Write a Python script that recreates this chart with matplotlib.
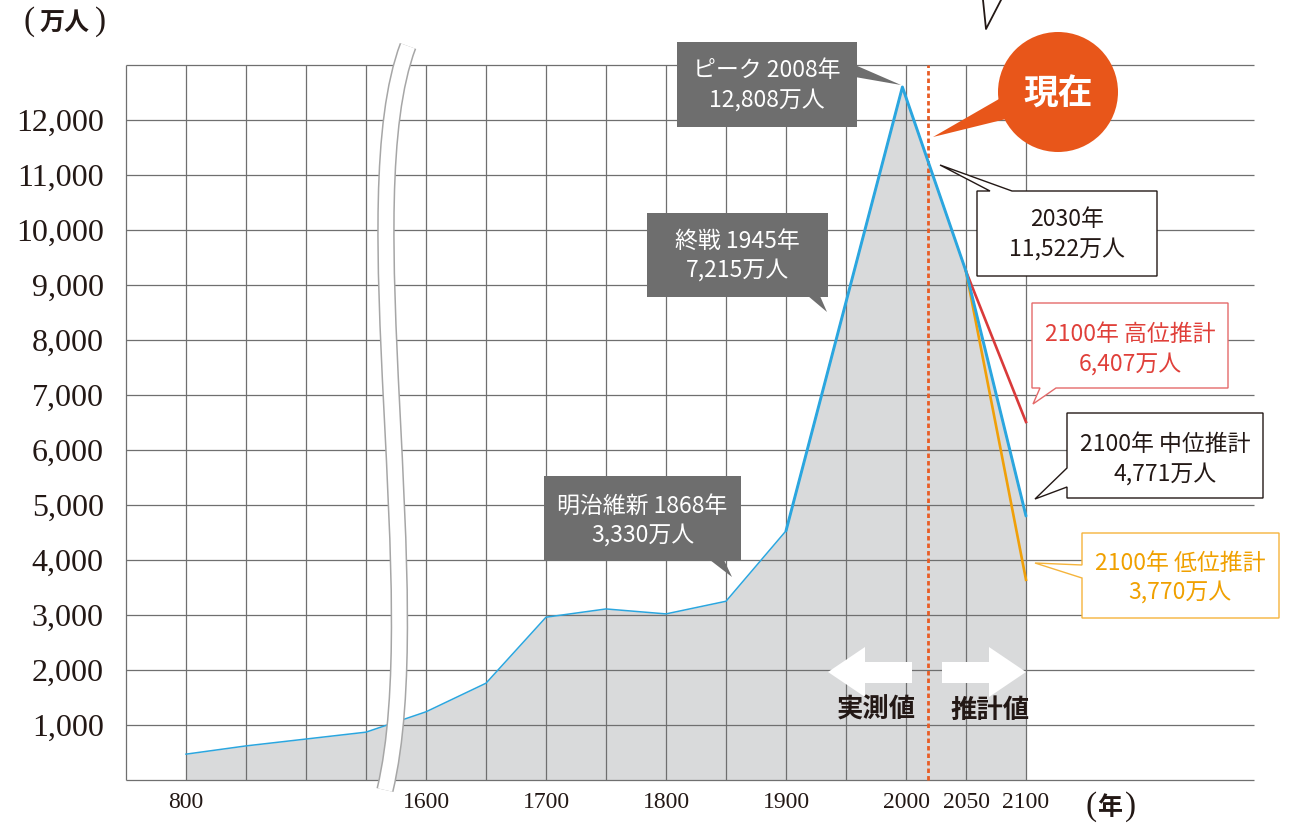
import numpy as np
import matplotlib
matplotlib.use('Agg')
import matplotlib.pyplot as plt
from matplotlib.path import Path
from matplotlib.patches import PathPatch, Polygon, Rectangle, Circle

# ---------------- data ----------------
years = [800, 900, 1000, 1100, 1600, 1650, 1700, 1750, 1800, 1850, 1900, 1997, 2050, 2100]
medium = [470, 620, 745, 870, 1240, 1760, 2960, 3110, 3020, 3250, 4530, 12600, 9250, 4800]
proj_years = [2050, 2100]
high = [9250, 6510]
low = [9250, 3640]
now_year = 2018
xtick_years = [800, 1600, 1700, 1800, 1900, 2000, 2050, 2100]
ytick_vals = list(range(1000, 13000, 1000))

# non-linear year scale (break between 1100 and 1600)
SCALE_YEARS = [800, 1100, 1600, 2100]
SCALE_POS = [1, 4, 5, 15]


def to_pos(y):
    return np.interp(y, SCALE_YEARS, SCALE_POS)


W, H = 1290, 823
plt.rcParams['font.family'] = ['Noto Sans CJK JP', 'DejaVu Sans']
SERIF = ['Liberation Serif', 'Noto Sans CJK JP']
INK = '#231815'

fig = plt.figure(figsize=(W / 100, H / 100), dpi=100)
fig.patch.set_facecolor('white')

# main axes
L, R, B, T = 126, 1254, 780, 65
ax = fig.add_axes([L / W, 1 - B / H, (R - L) / W, (B - T) / H])
XMAX = (R - L) / 60.0
ax.set_xlim(0, XMAX)
ax.set_ylim(0, 13000)
for s in ax.spines.values():
    s.set_visible(False)
ax.patch.set_alpha(0)

GRID = '#6f6f6f'
ax.hlines(np.arange(0, 14000, 1000), 0, XMAX, colors=GRID, lw=0.9, zorder=2, clip_on=False)
ax.vlines(np.arange(0, 16), 0, 13000, colors=GRID, lw=0.9, zorder=2, clip_on=False)

px = to_pos(years)
ax.fill_between(px, medium, 0, color='#d9dadb', lw=0, zorder=1)

ax.plot(to_pos([now_year, now_year]), [0, 13000], color='#e85d26', lw=2.0,
        linestyle=(0, (1.6, 1.1)), zorder=2.5, clip_on=False)

BLUE = '#2ba6df'
RED = '#d93a3a'
ORANGE = '#f0a00a'
ax.plot(to_pos(proj_years), high, color=RED, lw=1.9, zorder=3)
ax.plot(to_pos(proj_years), low, color=ORANGE, lw=1.9, zorder=3)
ax.plot(px, medium, color=BLUE, lw=1.1, zorder=3.5, solid_joinstyle='round')
idx = years.index(1900)
ax.plot(px[idx:], medium[idx:], color=BLUE, lw=2.1, zorder=3.6,
        solid_joinstyle='round', solid_capstyle='round')

ax.set_xticks(to_pos(xtick_years))
ax.set_xticklabels([str(y) for y in xtick_years], family=SERIF, fontsize=17, color=INK)
ax.set_yticks(ytick_vals)
ax.set_yticklabels([f"{v:,}" for v in ytick_vals], family=SERIF, fontsize=23, color=INK)
ax.tick_params(axis='x', length=0, pad=9)
ax.tick_params(axis='y', length=0, pad=16)

# ---------------- overlay in pixel coordinates ----------------
ov = fig.add_axes([0, 0, 1, 1], zorder=5)
ov.set_xlim(0, W)
ov.set_ylim(H, 0)
ov.axis('off')
ov.patch.set_alpha(0)

# axis break band
brk = Path([(408, 46), (350, 200), (430, 600), (385, 790)],
           [Path.MOVETO, Path.CURVE4, Path.CURVE4, Path.CURVE4])
ov.add_patch(PathPatch(brk, fill=False, edgecolor='#a6a6a6', lw=12.6, capstyle='butt'))
ov.add_patch(PathPatch(brk, fill=False, edgecolor='white', lw=10.4, capstyle='butt'))

# axis unit labels
ov.text(29, 22, '(', family=SERIF, fontsize=24, color=INK, ha='center', va='center')
ov.text(65, 23, '万人', fontsize=18, fontweight='bold', color=INK, ha='center', va='center')
ov.text(100, 22, ')', family=SERIF, fontsize=24, color=INK, ha='center', va='center')
ov.text(1091, 807, '(', family=SERIF, fontsize=24, color=INK, ha='center', va='center')
ov.text(1110, 808, '年', fontsize=18, fontweight='bold', color=INK, ha='center', va='center')
ov.text(1130, 807, ')', family=SERIF, fontsize=24, color=INK, ha='center', va='center')

DARK = '#6e6e6e'
FS = 16.5


def dark_box(x0, y0, x1, y1, tri, lines, ys):
    ov.add_patch(Rectangle((x0, y0), x1 - x0, y1 - y0, facecolor=DARK, edgecolor='none'))
    ov.add_patch(Polygon(tri, closed=True, facecolor=DARK, edgecolor='none'))
    for t, yy in zip(lines, ys):
        ov.text((x0 + x1) / 2, yy, t, color='white', fontsize=FS, ha='center', va='center')


dark_box(677, 42, 857, 127, [(855, 65), (901, 85), (855, 77)],
         ['ピーク 2008年', '12,808万人'], [70, 100])
dark_box(647, 213, 828, 297, [(808, 296), (827, 312), (820, 296)],
         ['終戦 1945年', '7,215万人'], [241, 270])
dark_box(544, 476, 741, 561, [(710, 560), (732, 577), (724, 560)],
         ['明治維新 1868年', '3,330万人'], [506, 535])


def outline_box(poly, edge, tcolor, cx, lines, ys):
    ov.add_patch(Polygon(poly, closed=True, facecolor='white', edgecolor=edge, lw=1.0,
                         joinstyle='miter'))
    for t, yy in zip(lines, ys):
        ov.text(cx, yy, t, color=tcolor, fontsize=FS, ha='center', va='center')


outline_box([(977, 191), (990, 191), (940, 165), (1012, 191), (1157, 191), (1157, 276),
             (977, 276)], INK, INK, 1067, ['2030年', '11,522万人'], [219, 249])
outline_box([(1032, 303), (1228, 303), (1228, 388), (1056, 388), (1033, 404), (1040, 388),
             (1032, 388)], '#e46a6a', '#e0403a', 1130, ['2100年 高位推計', '6,407万人'], [334, 364])
outline_box([(1067, 413), (1263, 413), (1263, 498), (1067, 498), (1067, 487), (1035, 499),
             (1067, 468)], INK, INK, 1165, ['2100年 中位推計', '4,771万人'], [444, 474])
outline_box([(1082, 533), (1279, 533), (1279, 618), (1082, 618), (1082, 578), (1035, 563),
             (1082, 565)], '#f5b43c', '#f0a000', 1180, ['2100年 低位推計', '3,770万人'], [563, 592])

# "現在" bubble
NOWC = '#e8561a'
ov.add_patch(Polygon([(999, 99), (933, 137), (1006, 119)], closed=True, facecolor=NOWC,
                     edgecolor='none'))
ov.add_patch(Circle((1058, 92), 60, facecolor=NOWC, edgecolor='none'))
ov.text(1058, 94, '現在', color='white', fontsize=25, fontweight='bold', ha='center', va='center')

# arrows
ov.add_patch(Polygon([(828, 672), (865, 647), (865, 662), (912, 662), (912, 683), (865, 683),
                      (865, 697)], closed=True, facecolor='white', edgecolor='none'))
ov.add_patch(Polygon([(1026, 672), (989, 647), (989, 662), (942, 662), (942, 683), (989, 683),
                      (989, 697)], closed=True, facecolor='white', edgecolor='none'))
ov.text(876, 710, '実測値', color=INK, fontsize=19, fontweight='bold', ha='center', va='center')
ov.text(990, 710, '推計値', color=INK, fontsize=19, fontweight='bold', ha='center', va='center')

# cropped pointer fragment at top
ov.plot([983, 986, 1001], [0, 29, 0], color=INK, lw=1.3)

fig.savefig('out.png', dpi=100, facecolor='white')
